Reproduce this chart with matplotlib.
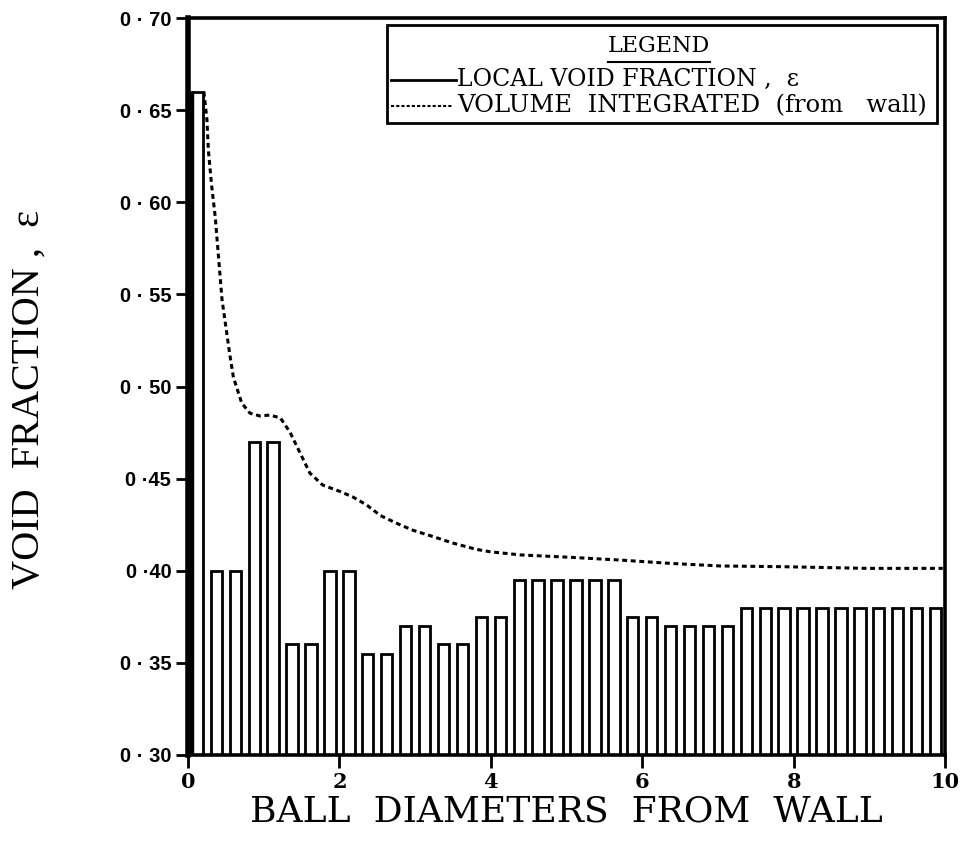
import numpy as np
import matplotlib
matplotlib.use("Agg")
import matplotlib.pyplot as plt
from matplotlib.patches import Rectangle
from matplotlib.lines import Line2D

# ---------------- data ----------------
bin_width = 0.25
bin_centres = np.arange(0.125, 10.0, 0.25)
local_void = [0.66, 0.40, 0.40, 0.47, 0.47, 0.36, 0.36, 0.40, 0.40, 0.355,
              0.355, 0.37, 0.37, 0.36, 0.36, 0.375, 0.375, 0.395, 0.395, 0.395,
              0.395, 0.395, 0.395, 0.375, 0.375, 0.37, 0.37, 0.37, 0.37, 0.38,
              0.38, 0.38, 0.38, 0.38, 0.38, 0.38, 0.38, 0.38, 0.38, 0.38]
wall_x = [0.0]
wall_void = [0.66]

int_x = [0.21, 0.25, 0.27, 0.31, 0.36, 0.40, 0.45, 0.55, 0.60, 0.71, 0.82, 0.95,
         1.08, 1.22, 1.35, 1.48, 1.61, 1.78, 2.01, 2.18, 2.36, 2.54, 2.76, 2.97,
         3.24, 3.50, 3.81, 3.99, 4.39, 5.05, 5.71, 6.37, 7.03, 7.86, 8.97, 9.97]
int_y = [0.660, 0.645, 0.628, 0.610, 0.592, 0.572, 0.547, 0.518, 0.505, 0.491,
         0.4855, 0.484, 0.4845, 0.483, 0.475, 0.464, 0.453, 0.4465, 0.443, 0.440,
         0.4357, 0.430, 0.4257, 0.422, 0.4185, 0.415, 0.4116, 0.4103, 0.4086,
         0.4073, 0.4058, 0.404, 0.4026, 0.4022, 0.4013, 0.4013]

y_ticks = [0.30, 0.35, 0.40, 0.45, 0.50, 0.55, 0.60, 0.65, 0.70]
y_tick_labels = ["0 · 30", "0 · 35", "0 ·40", "0 ·45", "0 · 50", "0 · 55",
                 "0 · 60", "0 · 65", "0 · 70"]
x_ticks = [0, 2, 4, 6, 8, 10]
x_tick_labels = ["0", "2", "4", "6", "8", "10"]

# ---------------- figure ----------------
fig = plt.figure(figsize=(9.66, 8.43), dpi=100)
ax = fig.add_axes([0.1946, 0.1044, 0.7837, 0.8742])

ax.bar(bin_centres, local_void, width=0.15, bottom=0.0, color="white",
       edgecolor="black", linewidth=2.0, zorder=2)
ax.bar(wall_x, wall_void, width=0.065, align="edge", color="black",
       edgecolor="black", linewidth=1.0, zorder=3)
ax.plot(int_x, int_y, color="black", linewidth=2.2,
        linestyle=(0, (1.6, 1.2)), zorder=4)

ax.set_xlim(0, 10)
ax.set_ylim(0.30, 0.70)

for side in ["left", "right", "top", "bottom"]:
    ax.spines[side].set_linewidth(2.6)
ax.spines["left"].set_linewidth(4.0)

ax.set_yticks(y_ticks)
ax.set_yticklabels(y_tick_labels, fontfamily="Liberation Sans", fontweight="bold",
                   fontsize=14.5)
ax.set_xticks(x_ticks)
ax.set_xticklabels(x_tick_labels, fontfamily="DejaVu Serif", fontweight="bold",
                   fontsize=15)
ax.tick_params(axis="both", direction="out", length=9, width=2, pad=3)
ax.tick_params(axis="y", pad=3)

ax.set_xlabel("BALL  DIAMETERS  FROM  WALL", fontfamily="DejaVu Serif",
              fontsize=26, labelpad=2)
ax.set_ylabel("VOID  FRACTION ,  ε", fontfamily="Liberation Serif",
              fontsize=29)
ax.yaxis.set_label_coords(-0.185, 0.482)

# ---------------- legend ----------------
lx0, lx1 = 0.2625, 0.990
ly0, ly1 = 0.858, 0.991
ax.add_patch(Rectangle((lx0, ly0), lx1 - lx0, ly1 - ly0, transform=ax.transAxes,
                       facecolor="white", edgecolor="black", linewidth=2.0,
                       zorder=6, clip_on=False))
ax.text(0.6225, 0.962, "LEGEND", transform=ax.transAxes,
        ha="center", va="center", fontfamily="DejaVu Serif", fontsize=16,
        zorder=7)
ax.add_line(Line2D([0.555, 0.690], [0.941, 0.941], transform=ax.transAxes,
                   color="black", linewidth=1.5, zorder=7))
ax.add_line(Line2D([0.268, 0.354], [0.916, 0.916], transform=ax.transAxes,
                   color="black", linewidth=2.0, zorder=7))
ax.text(0.356, 0.916, "LOCAL VOID FRACTION ,  ε", transform=ax.transAxes,
        ha="left", va="center", fontfamily="DejaVu Serif", fontsize=17, zorder=7)
ax.add_line(Line2D([0.268, 0.349], [0.881, 0.881], transform=ax.transAxes,
                   color="black", linewidth=1.5, linestyle=(0, (1.5, 1.0)),
                   zorder=7))
ax.text(0.356, 0.881, "VOLUME  INTEGRATED  (from   wall)", transform=ax.transAxes,
        ha="left", va="center", fontfamily="DejaVu Serif", fontsize=17.5, zorder=7)

fig.savefig("out.png", dpi=100)
